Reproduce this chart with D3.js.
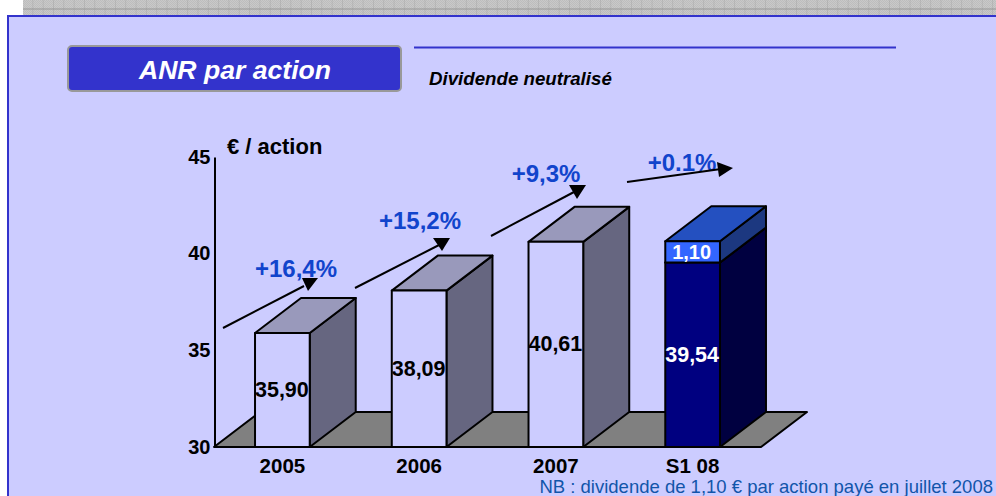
<!DOCTYPE html>
<html>
<head>
<meta charset="utf-8">
<script src="https://cdnjs.cloudflare.com/ajax/libs/d3/7.8.5/d3.min.js"></script>
<style>
  html, body { margin: 0; padding: 0; background: #fff; }
  svg { display: block; }
  text { font-family: "Liberation Sans", Arial, sans-serif; }
  .bold { font-weight: bold; }
</style>
</head>
<body>
<div id="chart"></div>
<script>
  var categories = ["2005", "2006", "2007", "S1 08"];
  var baseValues = [35.90, 38.09, 40.61, 39.54];
  var dividendValues = [0, 0, 0, 1.10];
  var baseLabels = ["35,90", "38,09", "40,61", "39,54"];
  var dividendLabels = ["", "", "", "1,10"];
  var growthLabels = ["+16,4%", "+15,2%", "+9,3%", "+0.1%"];
  var yTicks = [30, 35, 40, 45];

  var fullWidth = 996, fullHeight = 496;

  var svg = d3.select("#chart").append("svg")
      .attr("width", fullWidth)
      .attr("height", fullHeight);

  ////// background /////////////////
  var defs = svg.append("defs");
  var dither = defs.append("pattern")
      .attr("id", "dither")
      .attr("patternUnits", "userSpaceOnUse")
      .attr("width", 2).attr("height", 2);
  dither.append("rect").attr("width", 2).attr("height", 2).attr("fill", "#c9c9c9");
  dither.append("rect").attr("width", 1).attr("height", 1).attr("fill", "#bdbdbd");
  dither.append("rect").attr("x", 1).attr("y", 1).attr("width", 1).attr("height", 1).attr("fill", "#bdbdbd");

  var hatch = defs.append("pattern")
      .attr("id", "hatch")
      .attr("patternUnits", "userSpaceOnUse")
      .attr("x", 23).attr("y", 0)
      .attr("width", 10.32).attr("height", 18);
  hatch.append("rect").attr("x", 10).attr("width", 1).attr("height", 18).attr("fill", "#979797");
  hatch.append("rect").attr("y", 8.5).attr("width", 10.32).attr("height", 1).attr("fill", "#979797");

  svg.append("rect").attr("x", 23).attr("y", 0)
      .attr("width", fullWidth - 23).attr("height", 16)
      .attr("fill", "url(#dither)");
  svg.append("rect").attr("x", 23).attr("y", 0)
      .attr("width", fullWidth - 23).attr("height", 16)
      .attr("fill", "url(#hatch)");
  svg.append("rect").attr("x", 7).attr("y", 15)
      .attr("width", fullWidth - 7).attr("height", fullHeight - 15)
      .attr("fill", "#3333cc");
  svg.append("rect").attr("x", 9).attr("y", 17)
      .attr("width", fullWidth - 9).attr("height", fullHeight - 17)
      .attr("fill", "#ccccff");

  ////// title /////////////////
  svg.append("rect")
      .attr("x", 68).attr("y", 46)
      .attr("width", 333).attr("height", 45)
      .attr("rx", 4)
      .attr("fill", "#3333cc")
      .attr("stroke", "#999999")
      .attr("stroke-width", 2);
  svg.append("text")
      .attr("x", 235).attr("y", 79)
      .attr("text-anchor", "middle")
      .attr("class", "bold")
      .attr("font-style", "italic")
      .attr("font-size", 26.6)
      .attr("fill", "#fff")
      .text("ANR par action");
  svg.append("line")
      .attr("x1", 414).attr("x2", 896)
      .attr("y1", 47.5).attr("y2", 47.5)
      .attr("stroke", "#3333cc")
      .attr("stroke-width", 2);
  svg.append("text")
      .attr("x", 429).attr("y", 85)
      .attr("class", "bold")
      .attr("font-style", "italic")
      .attr("font-size", 18.7)
      .attr("fill", "#000")
      .text("Dividende neutralisé");

  ////// Define Scales /////////////////
  var xScale = d3.scaleBand()
      .domain(categories)
      .range([214, 761])
      .paddingInner(0.6)
      .paddingOuter(0.3);
  var yScale = d3.scaleLinear()
      .domain([30, 45])
      .range([447, 157]);

  // 3d offset of the depth faces
  var depthX = 46, depthY = -35;
  var floorY = yScale(30);

  function poly(points) {
    return points.map(function(p) { return p.join(","); }).join(" ");
  }

  // floor
  svg.append("polygon")
      .attr("points", poly([
        [xScale.range()[0], floorY],
        [xScale.range()[1], floorY],
        [xScale.range()[1] + depthX, floorY + depthY],
        [xScale.range()[0] + depthX, floorY + depthY]
      ]))
      .attr("fill", "#808080")
      .attr("stroke", "#000")
      .attr("stroke-width", 2)
      .attr("stroke-linejoin", "round");

  ////// 3d bars /////////////////
  function drawBox(name, v0, v1, colors) {
    var x0 = xScale(name), x1 = x0 + xScale.bandwidth();
    var yTop = yScale(v1), yBot = yScale(v0);
    var g = svg.append("g")
        .attr("stroke", "#000")
        .attr("stroke-width", 2)
        .attr("stroke-linejoin", "round");
    g.append("polygon")
        .attr("points", poly([[x1, yBot], [x1 + depthX, yBot + depthY], [x1 + depthX, yTop + depthY], [x1, yTop]]))
        .attr("fill", colors.side);
    g.append("polygon")
        .attr("points", poly([[x0, yTop], [x1, yTop], [x1 + depthX, yTop + depthY], [x0 + depthX, yTop + depthY]]))
        .attr("fill", colors.top);
    g.append("rect")
        .attr("x", x0).attr("y", yTop)
        .attr("width", x1 - x0).attr("height", yBot - yTop)
        .attr("fill", colors.front);
  }

  var lightColors = {front: "#ccccff", top: "#9999bb", side: "#666680"};
  var navyColors = {front: "#000080", top: "#000080", side: "#000040"};
  var dividendColors = {front: "#3366ff", top: "#2450c0", side: "#1c3880"};

  categories.forEach(function(name, i) {
    var hasDividend = dividendValues[i] > 0;
    drawBox(name, 30, baseValues[i], hasDividend ? navyColors : lightColors);
    if (hasDividend) {
      drawBox(name, baseValues[i], baseValues[i] + dividendValues[i], dividendColors);
    }
  });

  // value labels, middle of each segment
  categories.forEach(function(name, i) {
    var cx = xScale(name) + xScale.bandwidth() / 2;
    var hasDividend = dividendValues[i] > 0;
    svg.append("text")
        .attr("x", cx - 0.5)
        .attr("y", (yScale(30) + yScale(baseValues[i])) / 2 + 7)
        .attr("text-anchor", "middle")
        .attr("class", "bold")
        .attr("font-size", 21.5)
        .attr("fill", hasDividend ? "#fff" : "#000")
        .text(baseLabels[i]);
    if (hasDividend) {
      svg.append("text")
          .attr("x", cx - 1)
          .attr("y", (yScale(baseValues[i]) + yScale(baseValues[i] + dividendValues[i])) / 2 + 7)
          .attr("text-anchor", "middle")
          .attr("class", "bold")
          .attr("font-size", 20)
          .attr("fill", "#fff")
          .text(dividendLabels[i]);
    }
  });

  /////// Define Axis //////////////////////////////
  var yAxis = d3.axisLeft(yScale)
      .tickValues(yTicks)
      .tickSize(0)
      .tickPadding(4);
  var xAxis = d3.axisBottom(xScale)
      .tickSize(0)
      .tickPadding(11);

  var yAxisG = svg.append("g")
      .attr("transform", "translate(214.5,0)")
      .call(yAxis);
  yAxisG.select(".domain").attr("stroke", "#000").attr("stroke-width", 2);
  yAxisG.selectAll("text")
      .attr("class", "bold")
      .attr("font-size", 20)
      .attr("font-family", "Liberation Sans")
      .attr("fill", "#000")
      .attr("dy", "0.3em");

  var xAxisG = svg.append("g")
      .attr("transform", "translate(0," + floorY + ")")
      .call(xAxis);
  xAxisG.select(".domain").remove();
  xAxisG.selectAll("text")
      .attr("class", "bold")
      .attr("font-size", 20.5)
      .attr("font-family", "Liberation Sans")
      .attr("fill", "#000");

  svg.append("text")
      .attr("x", 227).attr("y", 154)
      .attr("class", "bold")
      .attr("font-size", 22)
      .attr("fill", "#000")
      .text("€ / action");

  ////// growth arrows /////////////////
  var arrowLayout = [
    {line: [223, 328, 304, 286], head: [[302, 278], [318, 278], [308, 291]], label: [296, 277]},
    {line: [355, 288, 441, 244], head: [[433, 238], [450, 238], [442, 251]], label: [420, 229]},
    {line: [491, 236, 574, 192], head: [[569, 185], [586, 185], [577, 199]], label: [546, 182]},
    {line: [627, 182, 721, 169], head: [[717, 162], [733, 168], [719, 177]], label: [682, 171]}
  ];

  growthLabels.forEach(function(label, i) {
    var a = arrowLayout[i];
    svg.append("text")
        .attr("x", a.label[0]).attr("y", a.label[1])
        .attr("text-anchor", "middle")
        .attr("class", "bold")
        .attr("font-size", 24)
        .attr("fill", "#1144cc")
        .text(label);
    svg.append("line")
        .attr("x1", a.line[0]).attr("y1", a.line[1])
        .attr("x2", a.line[2]).attr("y2", a.line[3])
        .attr("stroke", "#000")
        .attr("stroke-width", 2);
    svg.append("polygon")
        .attr("points", poly(a.head))
        .attr("fill", "#000");
  });

  ////// note /////////////////
  svg.append("text")
      .attr("x", 993).attr("y", 493)
      .attr("text-anchor", "end")
      .attr("font-size", 18.5)
      .attr("fill", "#1155aa")
      .text("NB : dividende de 1,10 € par action payé en juillet 2008");
</script>
</body>
</html>
